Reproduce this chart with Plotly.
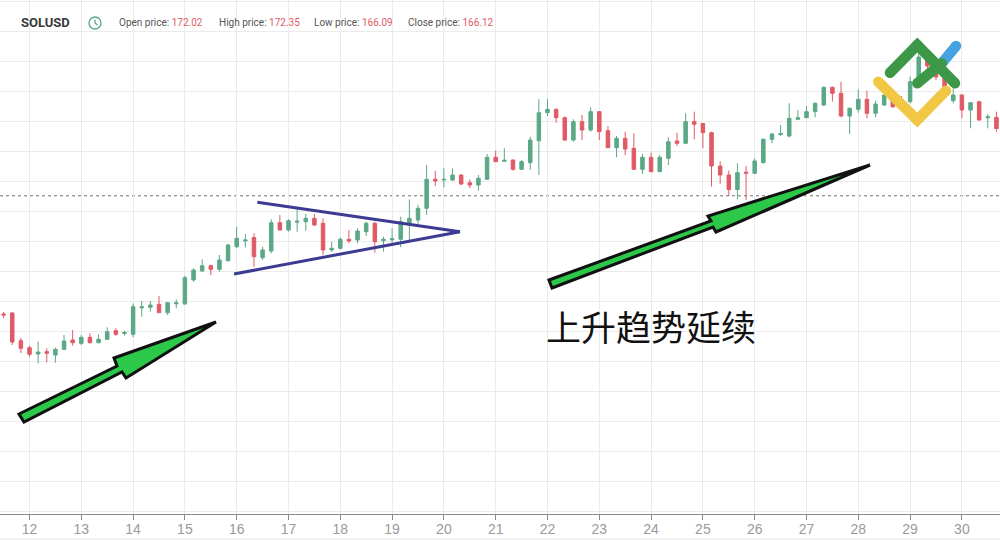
import plotly.graph_objects as go

# ---------------- data ----------------
symbol = "SOLUSD"
header_labels = ["Open price", "High price", "Low price", "Close price"]
header_values = [172.02, 172.35, 166.09, 166.12]
last_price = 166.12

day_ticks = list(range(12, 31))
day_labels = [str(d) for d in day_ticks]

opens = [154.3, 154.4, 151.63, 150.93, 150.3, 150.53, 150.2, 150.77, 151.7, 151.37,
         151.97, 151.43, 151.77, 152.63, 152.35, 152.27, 154.92, 154.97, 155.27, 154.43,
         155.32, 155.3, 157.7, 158.6, 159.13, 158.77, 159.63, 161.03, 161.6, 161.95,
         159.93, 160.6, 163.43, 162.7, 163.48, 163.53, 163.87, 163.37, 160.7, 160.87,
         161.77, 161.7, 162.53, 163.37, 161.63, 161.72, 161.77, 163.37, 163.7, 164.87,
         167.77, 167.7, 167.7, 168.2, 167.43, 167.2, 167.77, 169.97, 169.57, 169.7,
         168.77, 169.43, 171.63, 174.43, 174.77, 173.93, 171.7, 173.53, 172.7, 174.53,
         172.63, 170.93, 171.87, 170.87, 168.77, 169.97, 168.53, 169.87, 171.6, 171.37,
         173.53, 173.35, 172.43, 169.1, 168.2, 166.75, 168.48, 168.37, 169.43, 171.77,
         172.25, 172.1, 173.77, 173.93, 174.53, 175.2, 176.97, 176.37, 174.1, 174.77,
         175.77, 174.37, 175.2, 175.87, 175.7, 175.53, 177.5, 180.0, 179.1, 178.0,
         175.63, 176.2, 174.7, 175.53, 173.92, 173.97]
highs = [154.5, 154.5, 151.93, 151.13, 151.53, 150.87, 150.93, 152.2, 152.7, 152.2,
         152.37, 152.27, 152.97, 152.87, 152.63, 155.35, 155.6, 155.6, 156.1, 155.5,
         155.77, 158.13, 158.87, 159.77, 159.25, 160.2, 161.3, 163.03, 162.3, 162.37,
         161.03, 163.77, 164.2, 163.77, 164.87, 164.3, 164.3, 163.87, 161.53, 161.97,
         162.7, 162.87, 163.53, 163.53, 162.03, 162.87, 164.03, 165.77, 165.2, 169.2,
         168.63, 168.87, 168.87, 168.25, 167.77, 168.2, 170.3, 170.63, 170.87, 169.75,
         169.7, 172.03, 175.77, 175.8, 174.85, 174.05, 173.77, 174.2, 174.97, 174.6,
         173.1, 172.1, 172.53, 172.37, 170.3, 170.43, 170.2, 171.97, 172.43, 174.37,
         174.53, 173.4, 172.53, 169.57, 168.65, 169.37, 169.1, 169.87, 171.87, 172.4,
         173.2, 175.37, 174.7, 175.1, 175.45, 177.05, 177.05, 177.53, 174.95, 176.77,
         176.63, 175.63, 176.5, 176.2, 176.1, 178.03, 180.4, 180.3, 179.5, 178.5,
         176.87, 176.25, 175.5, 175.6, 174.3, 174.53]
lows = [153.9, 151.2, 150.4, 150.03, 149.37, 149.47, 149.43, 150.7, 151.13, 151.2,
        151.37, 151.37, 151.7, 152.13, 152.13, 151.97, 154.03, 154.53, 154.4, 154.2,
        154.87, 155.25, 157.53, 158.53, 158.2, 158.53, 159.53, 160.87, 160.95, 159.03,
        159.7, 160.37, 162.63, 162.53, 162.53, 162.63, 163.1, 160.2, 160.53, 160.77,
        161.37, 161.37, 162.1, 160.43, 160.53, 161.37, 160.97, 161.53, 163.3, 164.2,
        167.1, 166.97, 167.6, 167.2, 166.87, 166.63, 167.7, 169.51, 169.53, 168.63,
        168.7, 168.7, 168.2, 174.1, 173.43, 171.6, 171.53, 171.7, 172.53, 171.7,
        170.9, 169.97, 170.2, 168.7, 168.3, 168.5, 168.5, 169.2, 171.1, 171.3,
        171.77, 170.87, 167.05, 167.33, 166.1, 165.8, 165.7, 168.3, 169.37, 171.37,
        172.1, 171.97, 173.75, 173.9, 173.97, 175.1, 175.53, 173.97, 172.3, 174.43,
        173.87, 173.97, 175.1, 174.9, 175.1, 175.37, 177.3, 178.7, 177.7, 175.9,
        175.37, 173.87, 172.87, 173.63, 172.87, 172.53]
closes = [154.2, 151.5, 150.87, 150.27, 150.5, 150.37, 150.77, 151.6, 151.43, 151.97,
          151.43, 151.77, 152.53, 152.27, 152.45, 155.03, 155.02, 155.2, 154.43, 155.43,
          155.42, 157.93, 158.7, 159.13, 158.77, 159.7, 161.2, 161.87, 161.7, 160.03,
          160.7, 163.43, 162.7, 163.63, 163.58, 163.87, 163.2, 160.7, 160.87, 161.77,
          161.6, 162.6, 163.37, 161.53, 161.77, 161.82, 163.53, 163.87, 164.87, 167.77,
          167.6, 167.77, 168.2, 167.3, 167.2, 167.87, 169.97, 169.53, 169.67, 168.77,
          169.53, 171.7, 174.43, 174.77, 173.93, 171.7, 173.53, 172.7, 174.53, 172.53,
          170.93, 171.87, 170.8, 168.77, 169.97, 168.53, 169.97, 171.53, 171.37, 173.53,
          173.27, 172.43, 169.1, 168.2, 166.75, 168.43, 168.38, 169.6, 171.77, 172.3,
          172.35, 173.87, 173.93, 174.53, 175.37, 176.97, 176.37, 174.1, 174.87, 175.77,
          174.37, 175.3, 176.2, 175.03, 175.5, 177.53, 180.0, 179.1, 178.0, 176.03,
          176.2, 174.7, 175.43, 173.7, 174.02, 172.85]

first_candle_day = 11.5          # 4-hour candles
candle_step_days = 1 / 6
times = [first_candle_day + i * candle_step_days for i in range(len(opens))]

# drawings on the chart (day, price)
arrow1_days = [11.797, 13.689, 13.631, 15.600, 13.863, 13.786, 11.894]
arrow1_prices = [144.3, 149.1, 149.9, 153.5, 147.9, 148.5, 143.5]
arrow2_days = [22.029, 25.156, 25.098, 28.226, 25.253, 25.195, 22.087]
arrow2_prices = [157.7, 163.6, 164.1, 169.2, 162.5, 163.0, 156.9]
triangle_days = [16.398, 20.311, 15.948]
triangle_prices = [165.47, 162.53, 158.3]
caption = "上升趋势延续"
caption_day, caption_price = 24.0, 153.2

# ---------------- figure ----------------
W, H = 1000, 542
MT, MB = 0, 28
PLOT_H = H - MT - MB
x_range = [11.4305, 30.7355]
y_top = 185.7
y_range = [y_top - PLOT_H / 10, y_top]

GREEN = "#5aa886"
RED = "#e05a66"

fig = go.Figure()
fig.add_trace(go.Candlestick(
    x=times, open=opens, high=highs, low=lows, close=closes,
    increasing=dict(line=dict(color=GREEN, width=1), fillcolor=GREEN),
    decreasing=dict(line=dict(color=RED, width=1), fillcolor=RED),
    whiskerwidth=0, hoverinfo="skip", showlegend=False,
))


def poly_path(xs, ys):
    pts = [f"{x},{y}" for x, y in zip(xs, ys)]
    return "M " + " L ".join(pts) + " Z"


shapes = []
# last price dotted line
shapes.append(dict(type="line", xref="paper", x0=0, x1=1, yref="y", y0=last_price, y1=last_price,
                   line=dict(color="#6f6f6f", width=1, dash="dot"), layer="below"))
# bottom border line
shapes.append(dict(type="line", xref="paper", x0=0, x1=1, yref="paper",
                   y0=-25 / PLOT_H, y1=-25 / PLOT_H, line=dict(color="#e3e3e3", width=1)))
# triangle
for k in (0, 2):
    shapes.append(dict(type="line", xref="x", yref="y",
                       x0=triangle_days[k], y0=triangle_prices[k],
                       x1=triangle_days[1], y1=triangle_prices[1],
                       line=dict(color="#3b3b92", width=3)))
# arrows
for xs, ys in ((arrow1_days, arrow1_prices), (arrow2_days, arrow2_prices)):
    shapes.append(dict(type="path", xref="x", yref="y", path=poly_path(xs, ys),
                       fillcolor="#2cc84a", line=dict(color="#111111", width=3)))


# logo (page pixels -> paper)
def px(xp, yp):
    return xp / W, (PLOT_H - (yp - MT)) / PLOT_H


logo_strokes = [
    ("#47a3e0", [(941.7, 63.3), (956.0, 46.0)]),
    ("#f2c744", [(878.3, 81.7), (917.3, 120.0), (946.0, 90.7)]),
    ("#3c9847", [(890.0, 72.7), (917.3, 45.0), (955.0, 83.3)]),
    ("#3c9847", [(917.3, 83.3), (941.7, 63.3)]),
]
LW = 10.5
for color, pts in logo_strokes:
    conv = [px(a, b) for a, b in pts]
    path = "M " + " L ".join(f"{a},{b}" for a, b in conv)
    shapes.append(dict(type="path", xref="paper", yref="paper", path=path,
                       line=dict(color=color, width=LW)))
    for a, b in pts:
        x0, y0 = px(a - LW / 2, b + LW / 2)
        x1, y1 = px(a + LW / 2, b - LW / 2)
        shapes.append(dict(type="circle", xref="paper", yref="paper", x0=x0, x1=x1, y0=y0, y1=y1,
                           fillcolor=color, line=dict(width=0)))

# clock icon in header
cx, cy = px(95, 23)
shapes.append(dict(type="circle", xref="paper", yref="paper", xsizemode="pixel", ysizemode="pixel",
                   xanchor=cx, yanchor=cy, x0=-6, x1=6, y0=-6, y1=6,
                   line=dict(color=GREEN, width=1.3)))
shapes.append(dict(type="path", xref="paper", yref="paper", xsizemode="pixel", ysizemode="pixel",
                   xanchor=cx, yanchor=cy, path="M 0,3.5 L 0,0 L 2.5,-2",
                   line=dict(color=GREEN, width=1.3)))

annotations = []
annotations.append(dict(text=f"<b>{symbol}</b>", xref="paper", yref="paper",
                        x=px(19, 0)[0], y=px(0, 23)[1], xanchor="left", yanchor="middle",
                        showarrow=False, font=dict(family="Roboto", size=13, color="#3a3a3a")))
header_x = [116.7, 216.7, 312.3, 405.7]
for lab, val, hx in zip(header_labels, header_values, header_x):
    annotations.append(dict(
        text=f"{lab}: <span style='color:{RED}'>{val:.2f}</span>",
        xref="paper", yref="paper", x=px(hx, 0)[0], y=px(0, 23)[1],
        xanchor="left", yanchor="middle", showarrow=False,
        font=dict(family="Roboto", size=10, color="#555555")))
annotations.append(dict(text=caption, xref="x", yref="y", x=caption_day, y=caption_price,
                        showarrow=False, xanchor="center", yanchor="middle",
                        font=dict(family="Noto Sans CJK SC", size=35, color="#111111")))

fig.update_layout(
    width=W, height=H,
    margin=dict(l=0, r=0, t=MT, b=MB),
    paper_bgcolor="white", plot_bgcolor="white",
    boxgap=0.42,
    showlegend=False,
    hovermode=False,
    shapes=shapes,
    annotations=annotations,
    xaxis=dict(range=x_range, tickmode="array", tickvals=day_ticks, ticktext=day_labels,
               showgrid=True, gridcolor="#ebebeb", gridwidth=1,
               showline=True, linecolor="#8a8a8a", linewidth=1,
               ticks="outside", ticklen=5, tickcolor="#8a8a8a",
               ticklabelstandoff=-3,
               tickfont=dict(family="Liberation Sans Narrow, Arial Narrow, sans-serif", size=14, color="#9a9a9a"),
               rangeslider=dict(visible=False), zeroline=False, fixedrange=True),
    yaxis=dict(range=y_range, tick0=y_top - 0.17, dtick=3, showticklabels=False,
               showgrid=True, gridcolor="#ebebeb", gridwidth=1, zeroline=False, ticks="",
               fixedrange=True),
)

fig.write_html(
    "out.html",
    config={"displayModeBar": False},
    post_script="document.body.style.margin='0';document.body.style.overflow='hidden';",
)
